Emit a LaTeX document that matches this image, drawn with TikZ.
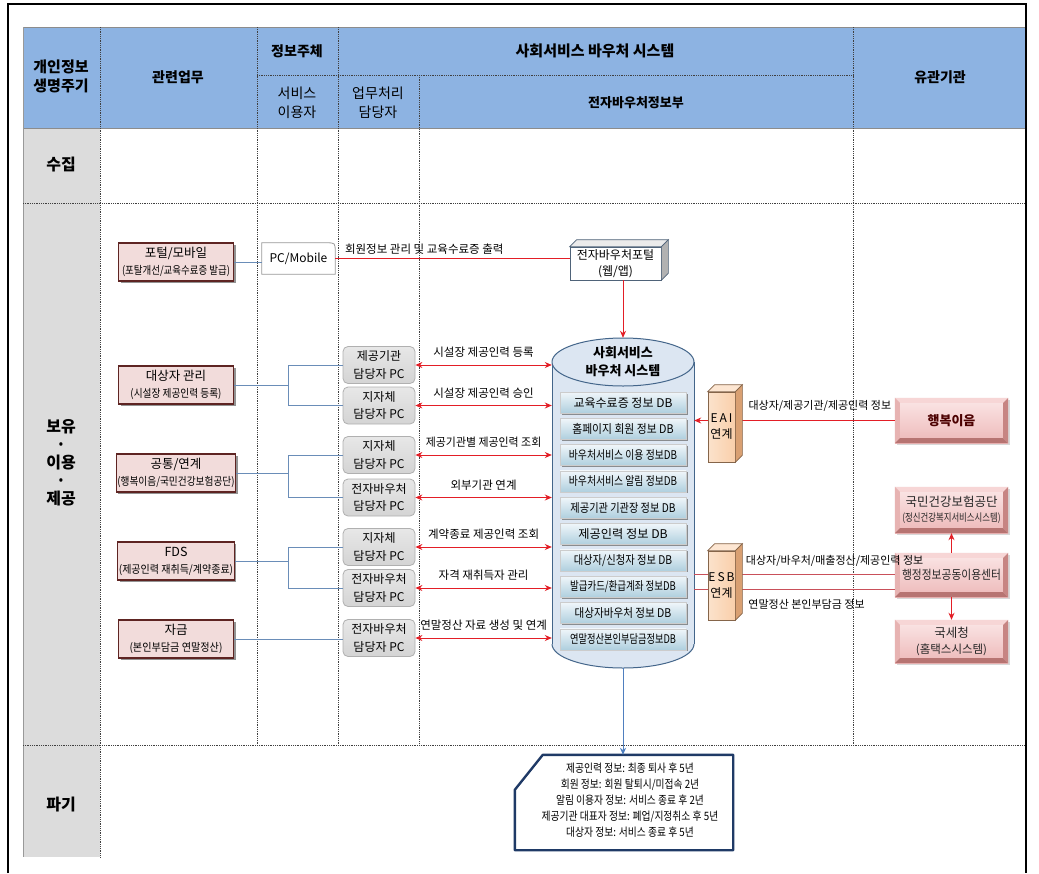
\documentclass[tikz,border=0pt]{standalone}
\usepackage{fontspec}
\usepackage{graphicx}
\newfontfamily\kr{Noto Sans CJK KR}
\usetikzlibrary{arrows.meta,shadows,calc}
\definecolor{hdrblue}{HTML}{8DB3E2}
\definecolor{leftgray}{HTML}{DCDCDC}
\definecolor{pinkfill}{HTML}{F2DCDB}
\definecolor{pinkline}{HTML}{5E2422}
\definecolor{pcfill}{HTML}{D4D4D4}
\definecolor{pcline}{HTML}{B0B0B0}
\definecolor{linkblue}{HTML}{6A8DB8}
\definecolor{arrred}{HTML}{E31E26}
\definecolor{esbred}{HTML}{C9505A}
\definecolor{cylfill}{HTML}{DCE6F2}
\definecolor{cylline}{HTML}{43658A}
\definecolor{dbtop}{HTML}{F0F6FA}
\definecolor{dbbot}{HTML}{AFCFDE}
\definecolor{cubefront}{HTML}{F9CFAA}
\definecolor{cubetop}{HTML}{FDE6D2}
\definecolor{cubeside}{HTML}{D9A072}
\definecolor{cubeline}{HTML}{85654A}
\definecolor{portline}{HTML}{4F6379}
\definecolor{bevtop}{HTML}{FBE7E7}
\definecolor{bevbot}{HTML}{EDB8B8}
\definecolor{bevlight}{HTML}{F7D6D6}
\definecolor{bevmid}{HTML}{E7B3B2}
\definecolor{bevdark}{HTML}{B77472}
\definecolor{bevdarkb}{HTML}{C78583}
\definecolor{displine}{HTML}{1F3A66}
\definecolor{bluearrow}{HTML}{4F7FBF}
\newcommand\hsq[2]{\scalebox{#1}[1]{#2}}
\newcommand\cubefaces[5]{%
  \filldraw[fill=#3, draw=#5, line width=0.7pt] (#1.north west) -- ++(#2,-#2) -- ($(#1.north east)+(#2,-#2)$) -- (#1.north east) -- cycle;
  \filldraw[fill=#4, draw=#5, line width=0.7pt] (#1.north east) -- ++(#2,-#2) -- ($(#1.south east)+(#2,-#2)$) -- (#1.south east) -- cycle;
}
\newcommand\bevelfaces[1]{%
  \fill[bevlight] (#1.north west) -- (#1.north east) -- ($(#1.north east)+(-5,5)$) -- ($(#1.north west)+(5,5)$) -- cycle;
  \fill[bevmid] (#1.north west) -- ($(#1.north west)+(5,5)$) -- ($(#1.south west)+(5,-5)$) -- (#1.south west) -- cycle;
  \fill[bevdark] (#1.south west) -- ($(#1.south west)+(5,-5)$) -- ($(#1.south east)+(-5,-5)$) -- (#1.south east) -- cycle;
  \fill[bevdarkb] (#1.north east) -- (#1.south east) -- ($(#1.south east)+(-5,-5)$) -- ($(#1.north east)+(-5,5)$) -- cycle;
}
\begin{document}
\begin{tikzpicture}[x=1pt,y=-1pt,
  every node/.style={font=\kr\fontsize{11}{15}\selectfont, inner sep=1pt},
  dotline/.style={draw=black!75, densely dotted, line width=0.8pt},
  hdrtxt/.style={font=\kr\bfseries\fontsize{15}{19}\selectfont, align=center},
  hdrreg/.style={font=\kr\fontsize{14}{19}\selectfont, align=center},
  rowtxt/.style={font=\kr\bfseries\fontsize{16}{18}\selectfont, align=center},
  taskbox/.style={draw=pinkline, line width=1.1pt, fill=pinkfill, minimum width=115pt, minimum height=38pt, align=center, font=\kr\fontsize{12.5}{17}\selectfont, drop shadow={shadow xshift=2pt, shadow yshift=-2pt, opacity=0.6, fill=black!70}},
  pcbox/.style={draw=pcline, line width=0.8pt, rounded corners=5pt, top color=pcfill!55!white, bottom color=pcfill, minimum width=72pt, minimum height=37pt, align=center, font=\kr\fontsize{12}{17.5}\selectfont},
  link/.style={draw=linkblue, line width=0.9pt},
  redline/.style={draw=arrred, line width=0.9pt},
  redarr/.style={redline, {Stealth[length=7pt,width=6pt]}-{Stealth[length=7pt,width=6pt]}},
  redone/.style={redline, -{Stealth[length=7pt,width=6pt]}},
  esbline/.style={draw=esbred, line width=0.9pt},
  lbl/.style={font=\kr\fontsize{11.5}{13}\selectfont, fill=none},
  rlbl/.style={font=\kr\fontsize{11}{13}\selectfont, fill=none},
  dbbar/.style={top color=dbtop, bottom color=dbbot, draw=black!20, line width=0.4pt, minimum width=126pt, minimum height=21pt, inner sep=0pt, font=\kr\fontsize{12}{13}\selectfont, drop shadow={shadow xshift=1.5pt, shadow yshift=-1.5pt, opacity=0.7, fill=black!60}},
  cubebox/.style={left color=cubefront!60!white, right color=cubefront, draw=cubeline, line width=0.7pt, minimum width=27pt, inner sep=0pt, align=center, font=\kr\fontsize{12}{16}\selectfont},
  bevbox/.style={minimum width=113pt, top color=bevtop, bottom color=bevbot, align=center, inner sep=0pt, text=black!85, font=\kr\fontsize{12.5}{15.5}\selectfont, drop shadow={shadow xshift=2pt, shadow yshift=-2pt, opacity=0.3, fill=black!50}}
]
\useasboundingbox (0,0) rectangle (1039,873);
\fill[white] (0,0) rectangle (1039,873);

% ---------------- table background ----------------
\fill[hdrblue] (23,27) rectangle (1026,128);
\fill[leftgray] (23,128) rectangle (100,857);
\draw[black!45, line width=1pt] (23,27) -- (1026,27);
\draw[black!45, line width=1pt] (23,128) -- (1026,128);
\draw[black!40, line width=1pt] (23,27) -- (23,857);

\draw[dotline] (100,27) -- (100,857);
\draw[dotline] (257,27) -- (257,745);
\draw[dotline] (338,27) -- (338,745);
\draw[dotline] (419,75) -- (419,745);
\draw[dotline] (853,27) -- (853,745);
\draw[dotline] (257,75) -- (853,75);
\draw[dotline] (23,203) -- (1026,203);
\draw[dotline] (23,745) -- (1026,745);

\draw[black, line width=1.2pt] (8,873) -- (8,4) -- (1026,4) -- (1026,873);

% ---------------- header texts ----------------
\node[hdrtxt] (h1) at (61,76) {개인정보\\생명주기};
\node[hdrtxt, font=\kr\bfseries\fontsize{14}{19}\selectfont] (h2) at (178,77) {관련업무};
\node[hdrtxt, font=\kr\bfseries\fontsize{14}{19}\selectfont] (h3) at (297,51) {정보주체};
\node[hdrtxt] (h4) at (595,51) {사회서비스 바우처 시스템};
\node[hdrreg] (h5) at (297,103) {서비스\\이용자};
\node[hdrreg] (h6) at (378,103) {업무처리\\담당자};
\node[hdrtxt, font=\kr\bfseries\fontsize{13}{15}\selectfont] (h7) at (636,103) {전자바우처정보부};
\node[hdrtxt, font=\kr\bfseries\fontsize{14}{19}\selectfont] (h8) at (940,77) {유관기관};

\node[rowtxt] (r1) at (61,165) {수집};
\node[rowtxt] (r2) at (61,463) {보유\\·\\이용\\·\\제공};
\node[rowtxt] (r3) at (61,804) {파기};

% ---------------- task boxes ----------------
\node[taskbox] (t1) at (176,262) {포털/모바일\\{\fontsize{11}{13}\selectfont\hsq{0.86}{(포탈개선/교육수료증 발급)}}};
\node[taskbox] (t2) at (176,385) {대상자 관리\\{\fontsize{11}{13}\selectfont\hsq{0.88}{(시설장 제공인력 등록)}}};
\node[taskbox] (t3) at (176,473) {공통/연계\\{\fontsize{11}{13}\selectfont\hsq{0.88}{(행복이음/국민건강보험공단)}}};
\node[taskbox] (t4) at (176,561) {FDS\\{\fontsize{11}{13}\selectfont\hsq{0.91}{(제공인력 재취득/계약종료)}}};
\node[taskbox] (t5) at (176,639) {자금\\{\fontsize{11}{13}\selectfont\hsq{0.92}{(본인부담금 연말정산)}}};

% ---------------- PC/Mobile ----------------
\node[minimum width=73pt, minimum height=31pt, inner sep=0pt, font=\kr\fontsize{12}{14}\selectfont] (pcm) at (298.5,258.5) {PC/Mobile};
\draw[black!40, line width=0.8pt] (pcm.south west) -- (pcm.north west) -- ($(pcm.north east)+(-9,0)$) .. controls (pcm.north east) .. ($(pcm.north east)+(0,9)$) -- (pcm.south east) -- cycle;

% ---------------- PC boxes ----------------
\node[pcbox] (pa) at (379,365) {제공기관\\담당자 PC};
\node[pcbox] (pb) at (379,405.5) {지자체\\담당자 PC};
\node[pcbox] (pc) at (379,455) {지자체\\담당자 PC};
\node[pcbox] (pd) at (379,497.5) {전자바우처\\담당자 PC};
\node[pcbox] (pe) at (379,547) {지자체\\담당자 PC};
\node[pcbox] (pf) at (379,588) {전자바우처\\담당자 PC};
\node[pcbox] (pg) at (379,638) {전자바우처\\담당자 PC};

% ---------------- task -> PC links ----------------
\coordinate (jx) at (288,0);
\draw[link] (t1.east) -- (t1.east -| pcm.west);
\draw[link] (t2.east) -- (t2.east -| jx);
\draw[link] (pa.west -| jx) -- (pb.west -| jx);
\draw[link] (pa.west -| jx) -- (pa.west);
\draw[link] (pb.west -| jx) -- (pb.west);
\draw[link] (t3.east) -- (t3.east -| jx);
\draw[link] (pc.west -| jx) -- (pd.west -| jx);
\draw[link] (pc.west -| jx) -- (pc.west);
\draw[link] (pd.west -| jx) -- (pd.west);
\draw[link] (t4.east) -- (t4.east -| jx);
\draw[link] (pe.west -| jx) -- (pf.west -| jx);
\draw[link] (pe.west -| jx) -- (pe.west);
\draw[link] (pf.west -| jx) -- (pf.west);
\draw[link] (t5.east) -- (t5.east -| pg.west);

% ---------------- cylinder ----------------
\node[minimum width=142pt, minimum height=330pt, inner sep=0pt] (cyl) at (623,503) {};
\fill[cylfill] (552,362) rectangle (694,644);
\fill[cylfill] (623,644) ellipse [x radius=71pt, y radius=24pt];
\begin{scope}
  \clip (540,644) rectangle (706,690);
  \draw[cylline, line width=1pt] (623,644) ellipse [x radius=71pt, y radius=24pt];
\end{scope}
\draw[cylline, line width=1pt] (552,362) -- (552,644) (694,362) -- (694,644);
\filldraw[fill=cylfill, draw=cylline, line width=1pt] (623,362) ellipse [x radius=71pt, y radius=24pt];
\node[font=\kr\bfseries\fontsize{13}{18}\selectfont, align=center] (cyltxt) at (623,362) {사회서비스\\바우처 시스템};

\foreach \i/\t/\s [evaluate=\i as \yy using 402.5+(\i-1)*26.3] in {
  1/{교육수료증 정보 DB}/1.0,
  2/{홈페이지 회원 정보 DB}/0.9,
  3/{바우처서비스 이용 정보DB}/0.82,
  4/{바우처서비스 알림 정보DB}/0.82,
  5/{제공기관 기관장 정보 DB}/0.85,
  6/{제공인력 정보 DB}/1.02,
  7/{대상자/신청자 정보 DB}/0.86,
  8/{발급카드/환급계좌 정보DB}/0.79,
  9/{대상자바우처 정보 DB}/0.88,
  10/{연말정산본인부담금정보DB}/0.77}
{
  \node[dbbar] (db\i) at (623,\yy) {\hsq{\s}{\t}};
}

% ---------------- PC <-> cylinder arrows ----------------
\draw[redarr] (pa.east) -- (pa.east -| cyl.west) node[lbl, midway, above=6pt] {시설장 제공인력 등록};
\draw[redarr] (pb.east) -- (pb.east -| cyl.west) node[lbl, midway, above=6pt] {시설장 제공인력 승인};
\draw[redarr] (pc.east) -- (pc.east -| cyl.west) node[lbl, midway, above=6pt] {\hsq{0.95}{제공기관별 제공인력 조회}};
\draw[redarr] (pd.east) -- (pd.east -| cyl.west) node[lbl, midway, above=6pt] {외부기관 연계};
\draw[redarr] (pe.east) -- (pe.east -| cyl.west) node[lbl, midway, above=6pt] {계약종료 제공인력 조회};
\draw[redarr] (pf.east) -- (pf.east -| cyl.west) node[lbl, midway, above=6pt] {자격 재취득자 관리};
\draw[redarr] (pg.east) -- (pg.east -| cyl.west) node[lbl, midway, above=6pt] {연말정산 자료 생성 및 연계};

% ---------------- portal ----------------
\node[draw=portline, line width=0.7pt, fill=white, minimum width=91pt, minimum height=33pt, inner sep=0pt, align=center, font=\kr\fontsize{12}{16}\selectfont] (portal) at (615.5,263.5) {전자바우처포털\\(웹/앱)};
\cubefaces{portal}{7}{black!8}{black!30}{portline}
\draw[redline] (pcm.east) -- (pcm.east -| portal.west) node[lbl, pos=0.38, above=3pt] {회원정보 관리 및 교육수료증 출력};
\draw[redone] (portal.south -| cyl.north) -- (cyl.north);

% ---------------- right side agencies ----------------
\node[bevbox, minimum height=45pt, font=\kr\bfseries\fontsize{13}{15}\selectfont, text=red!30!black] (hb) at (951.5,420.5) {행복이음};
\bevelfaces{hb}
\node[bevbox, minimum height=46pt] (nh) at (951.5,510) {국민건강보험공단\\{\fontsize{10.5}{13}\selectfont\hsq{0.8}{(정신건강복지서비스시스템)}}};
\bevelfaces{nh}
\node[bevbox, minimum height=44pt] (xt) at (951.5,575) {\hsq{0.86}{행정정보공동이용센터}};
\bevelfaces{xt}
\node[bevbox, minimum height=43pt] (nts) at (951.5,641.5) {국세청\\{\fontsize{11.5}{13}\selectfont(홈택스시스템)}};
\bevelfaces{nts}

\draw[redone] (xt.north) -- (nh.south);
\draw[redone] (xt.south) -- (nts.north);

% ---------------- EAI / ESB ----------------
\node[cubebox, minimum height=70pt] (eai) at (721.5,427) {E\kern2pt A\kern2pt I\\연계};
\node[cubebox, minimum height=69pt] (esb) at (721.5,585.5) {E\kern2pt S\kern2pt B\\연계};

\draw[redline] (hb.west) -- (hb.west -| eai.east) node[rlbl, pos=0.47, above=8pt] {대상자/제공기관/제공인력 정보};
\draw[redone] (hb.west -| eai.west) -- (hb.west -| cyl.east);

\coordinate (e1) at (0,574);
\coordinate (e2) at (0,589);
\draw[esbline] (cyl.east |- e1) -- (xt.west |- e1) node[rlbl, pos=0.7, above=6pt] {대상자/바우처/매출정산/제공인력 정보};
\draw[esbline] (cyl.east |- e2) -- (xt.west |- e2) node[rlbl, pos=0.56, below=9pt] {연말정산 본인부담금 정보};

% redraw cubes over lines
\node[cubebox, minimum height=70pt] at (eai) {E\kern2pt A\kern2pt I\\연계};
\cubefaces{eai}{7}{cubetop}{cubeside}{cubeline}
\node[cubebox, minimum height=69pt] at (esb) {E\kern2pt S\kern2pt B\\연계};
\cubefaces{esb}{7}{cubetop}{cubeside}{cubeline}

% ---------------- disposal ----------------
\node[minimum width=218pt, minimum height=95pt, inner sep=0pt] (disp) at (624,802.5) {};
\draw[displine, line width=2.4pt, line join=round] (disp.south west) -- ($(disp.north west)+(0,35)$) -- ($(disp.north west)+(28,0)$) -- (disp.north east) -- (disp.south east) -- cycle;
\node[align=center, font=\kr\fontsize{11.5}{16}\selectfont] (disptxt) at (630,800) {\hsq{0.85}{제공인력 정보: 최종 퇴사 후 5년}\\\hsq{0.85}{회원 정보: 회원 탈퇴시/미접속 2년}\\\hsq{0.85}{알림 이용자 정보: 서비스 종료 후 2년}\\\hsq{0.85}{제공기관 대표자 정보: 폐업/지정취소 후 5년}\\\hsq{0.85}{대상자 정보: 서비스 종료 후 5년}};
\draw[draw=bluearrow, line width=0.9pt, -{Stealth[length=7pt,width=6pt]}] (cyl.south) -- (cyl.south |- disp.north);

\end{tikzpicture}
\end{document}
